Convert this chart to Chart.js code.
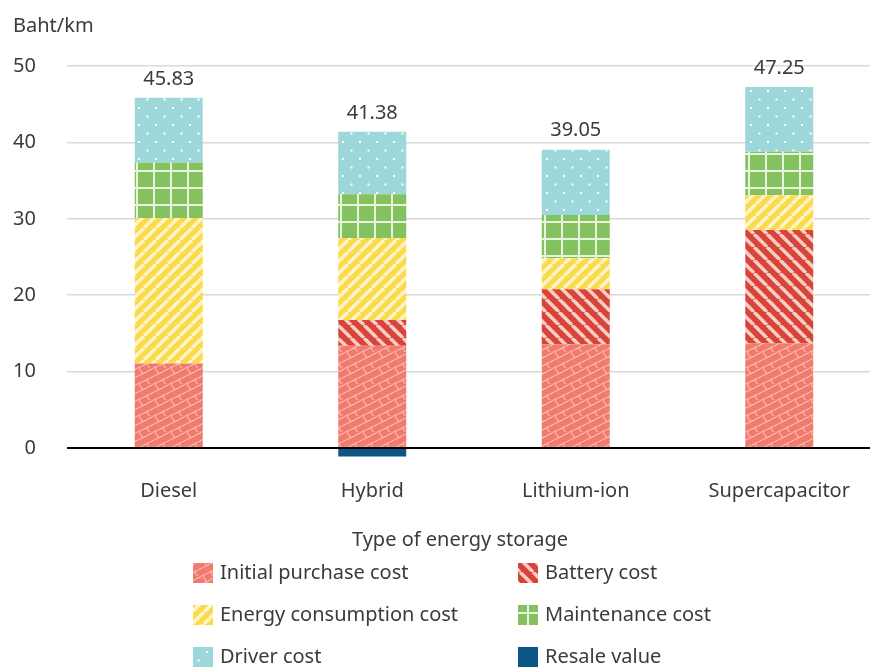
<!DOCTYPE html>
<html>
<head>
<meta charset="utf-8">
<script src="https://cdn.jsdelivr.net/npm/chart.js@4/dist/chart.umd.min.js"></script>
<style>
  html, body { margin: 0; padding: 0; background: #fff; overflow: hidden; }
  #wrap { width: 882px; height: 668px; }
</style>
</head>
<body>
<div id="wrap"><canvas id="cost-chart" width="882" height="668"></canvas></div>
<script>
// cost per km by energy storage type
const categories = ['Diesel', 'Hybrid', 'Lithium-ion', 'Supercapacitor'];
const initialPurchase = [11.08, 13.39, 13.57, 13.70];
const batteryCost = [0, 3.36, 7.20, 14.83];
const energyCost = [19.02, 10.75, 4.06, 4.57];
const maintenanceCost = [7.24, 5.70, 5.67, 5.68];
const driverCost = [8.49, 8.18, 8.55, 8.47];
const resaleValue = [null, -1.10, null, null];
const yTicks = [0, 10, 20, 30, 40, 50];

const textColor = '#3b3b3b';
Chart.defaults.font.family = "'Noto Sans', sans-serif";
Chart.defaults.font.size = 20;
Chart.defaults.color = textColor;

// small helper to build a repeating fill from a tile
function tile(size, bg, draw) {
    const c = document.createElement('canvas');
    c.width = size;
    c.height = size;
    const g = c.getContext('2d');
    g.fillStyle = bg;
    g.fillRect(0, 0, size, size);
    draw(g, size);
    return g.createPattern(c, 'repeat');
}

function stripes(size, bg, fg, width, down) {
    return tile(size, bg, (g, s) => {
        g.strokeStyle = fg;
        g.lineWidth = width;
        for (let k = -1; k <= 1; k++) {
            g.beginPath();
            if (down) {
                g.moveTo(k * s, 0);
                g.lineTo(k * s + s, s);
            } else {
                g.moveTo(k * s, s);
                g.lineTo(k * s + s, 0);
            }
            g.stroke();
        }
    });
}

// dotted segment that wraps around the tile edges
function dotted(g, s, x0, y0, x1, y1) {
    const len = Math.hypot(x1 - x0, y1 - y0);
    const n = Math.ceil(len / 1.6);
    for (let i = 0; i <= n; i++) {
        const x = x0 + (x1 - x0) * i / n;
        const y = y0 + (y1 - y0) * i / n;
        g.fillRect(((x % s) + s) % s, ((y % s) + s) % s, 1.3, 1.3);
    }
}

const brickFill = tile(16, '#f17a6c', (g, s) => {
    g.fillStyle = '#f9bcb3';
    dotted(g, s, 0, 12, 16, 4);
    dotted(g, s, 0, 20, 16, 12);
    dotted(g, s, 2, 11, 6, 17);
    dotted(g, s, 10, 15, 14, 21);
});
const batteryFill = stripes(13, '#d9443a', '#f7cdc4', 3.5, true);
const energyFill = stripes(12, '#fbda4c', '#fff4c6', 3.5, false);
const gridFill = tile(17, '#84c25f', (g, s) => {
    g.fillStyle = '#eaf4dc';
    g.fillRect(0, 0, 2, s);
    g.fillRect(0, 0, s, 2);
});
const dotFill = tile(17, '#9dd7da', (g, s) => {
    g.fillStyle = '#ffffff';
    g.fillRect(2, 5, 2, 2);
    g.fillRect(10.5, 13.5, 2, 2);
});

const series = [
    { label: 'Initial purchase cost', data: initialPurchase, fill: brickFill },
    { label: 'Battery cost', data: batteryCost, fill: batteryFill },
    { label: 'Energy consumption cost', data: energyCost, fill: energyFill },
    { label: 'Maintenance cost', data: maintenanceCost, fill: gridFill },
    { label: 'Driver cost', data: driverCost, fill: dotFill },
    { label: 'Resale value', data: resaleValue, fill: '#0d5585' }
];

// totals written above each stack
const totalsPlugin = {
    id: 'totals',
    afterDatasetsDraw(chart) {
        const ctx = chart.ctx;
        const x = chart.scales.x;
        const y = chart.scales.y;
        ctx.save();
        ctx.font = "20px 'Noto Sans', sans-serif";
        ctx.fillStyle = textColor;
        ctx.textAlign = 'center';
        ctx.textBaseline = 'middle';
        categories.forEach((c, i) => {
            let total = 0;
            series.forEach(s => { if (s.data[i] > 0) total += s.data[i]; });
            ctx.fillText(total.toFixed(2), x.getPixelForValue(i), y.getPixelForValue(total) - 19);
        });
        ctx.restore();
    }
};

// axis caption plus a two-column legend below it
const legendPlugin = {
    id: 'gridLegend',
    afterDraw(chart) {
        const ctx = chart.ctx;
        const colX = [193, 518];
        const rowY = [573, 615, 657];
        ctx.save();
        ctx.font = "20px 'Noto Sans', sans-serif";
        ctx.textBaseline = 'middle';
        ctx.fillStyle = textColor;
        ctx.textAlign = 'center';
        ctx.fillText('Type of energy storage', 460, 540);
        ctx.textAlign = 'left';
        series.forEach((s, i) => {
            const bx = colX[i % 2];
            const by = rowY[Math.floor(i / 2)];
            ctx.fillStyle = s.fill;
            ctx.fillRect(bx, by - 10, 20, 20);
            ctx.fillStyle = textColor;
            ctx.fillText(s.label, bx + 27, by);
        });
        ctx.restore();
    }
};

new Chart(document.getElementById('cost-chart'), {
    type: 'bar',
    data: {
        labels: categories,
        datasets: series.map(s => ({
            label: s.label,
            data: s.data,
            backgroundColor: s.fill,
            borderWidth: 0,
            categoryPercentage: 1,
            barPercentage: 0.334
        }))
    },
    options: {
        responsive: false,
        animation: false,
        layout: { padding: { left: 13, right: 1, top: 0, bottom: 112 } },
        plugins: {
            legend: { display: false },
            tooltip: { enabled: false },
            title: {
                display: true,
                text: 'Baht/km',
                align: 'start',
                color: textColor,
                font: { size: 20, weight: 'normal' },
                padding: { top: 14, bottom: 28 }
            }
        },
        scales: {
            x: {
                stacked: true,
                grid: { display: false },
                border: { display: false },
                ticks: { padding: 12, maxRotation: 0, autoSkip: false },
                afterFit(scale) { scale.height = 96.5; }
            },
            y: {
                stacked: true,
                min: -1.5,
                max: 50,
                afterBuildTicks(scale) {
                    scale.ticks = yTicks.map(v => ({ value: v }));
                },
                afterFit(scale) { scale.width = 54; },
                border: { display: false },
                grid: {
                    drawTicks: false,
                    color: c => c.tick && c.tick.value === 0 ? '#000000' : '#d9d9d9',
                    lineWidth: c => c.tick && c.tick.value === 0 ? 2 : 1.5
                },
                ticks: { padding: 31 }
            }
        }
    },
    plugins: [totalsPlugin, legendPlugin]
});
</script>
</body>
</html>
